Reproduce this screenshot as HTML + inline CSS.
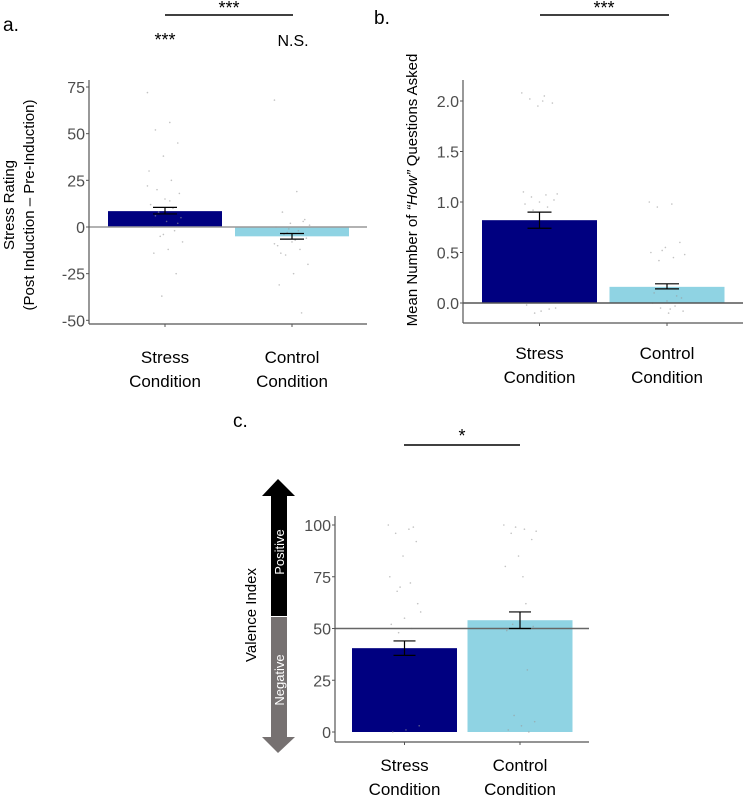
<!DOCTYPE html>
<html><head><meta charset="utf-8">
<style>
html,body{margin:0;padding:0;background:#fff;}
svg{display:block;font-family:"Liberation Sans",sans-serif;}
</style></head>
<body>
<svg id="chart" width="743" height="795" viewBox="0 0 743 795" xmlns="http://www.w3.org/2000/svg">
<text x="3" y="31" font-size="19">a.</text>
<line x1="165" y1="15" x2="293" y2="15" stroke="#000" stroke-width="1.5"/>
<text x="229" y="14" font-size="18" text-anchor="middle">***</text>
<text x="165" y="46" font-size="18" text-anchor="middle">***</text>
<text x="293" y="46" font-size="16" text-anchor="middle">N.S.</text>
<text transform="translate(14,205) rotate(-90)" font-size="15" text-anchor="middle">Stress Rating</text>
<text transform="translate(34,205) rotate(-90)" font-size="15" text-anchor="middle">(Post Induction – Pre-Induction)</text>
<text x="374" y="24" font-size="19">b.</text>
<line x1="540" y1="15" x2="669" y2="15" stroke="#000" stroke-width="1.5"/>
<text x="604" y="14" font-size="18" text-anchor="middle">***</text>
<text transform="translate(417,190) rotate(-90)" font-size="15" text-anchor="middle">Mean Number of <tspan font-style="italic">“How”</tspan> Questions Asked</text>
<text x="233" y="427" font-size="19">c.</text>
<line x1="404" y1="445" x2="520" y2="445" stroke="#000" stroke-width="1.5"/>
<text x="462" y="442" font-size="18" text-anchor="middle">*</text>
<text transform="translate(256,615) rotate(-90)" font-size="15" text-anchor="middle">Valence Index</text>
<g>
<polygon points="278,479 295,496 287,496 287,616 271,616 271,496 262,496" fill="#000"/>
<polygon points="271,617 287,617 287,737 295,737 278,753 262,737 271,737" fill="#767171"/>
<text transform="translate(284,552) rotate(-90)" font-size="13" fill="#fff" text-anchor="middle">Positive</text>
<text transform="translate(284,680) rotate(-90)" font-size="13" fill="#fff" text-anchor="middle">Negative</text>
</g>
</svg>
<script>
const categories = ["Stress", "Control"];
const aMeans = [8.5, -5];
const aErrLow = [7, -6.5];
const aErrHigh = [10.5, -3.5];
const aTicks = [75, 50, 25, 0, -25, -50];
const aPoints = [[72,56,52,45,38,30,25,20,18,15,12,10,8,5,3,0,-2,-5,-8,-12,-14,-25,-37,22,14,6,2,-4],[68,19,8,4,2,0,-2,-4,-6,-8,-10,-12,-15,-20,-25,-31,-46,-3,1,-7,-14,3,-1,-9]];
const bMeans = [0.82, 0.16];
const bErrLow = [0.74, 0.14];
const bErrHigh = [0.90, 0.19];
const bTicks = [2.0, 1.5, 1.0, 0.5, 0.0];
const bPoints = [[2.08,2.05,2.02,1.98,1.95,1.1,1.07,1.05,1.02,1.0,0.98,0.95,0.92,-0.05,-0.08,-0.02,-0.06,-0.1,1.08,2.0],[1.0,0.98,0.95,0.6,0.55,0.5,0.45,0.42,0.05,0.02,0.0,-0.03,-0.05,-0.08,-0.1,0.1,0.07,0.52,0.48,-0.06]];
const cMeans = [40.5, 54];
const cErrLow = [37, 50];
const cErrHigh = [44, 58];
const cTicks = [100, 75, 50, 25, 0];
const cPoints = [[100,98,96,92,85,75,72,68,62,55,52,50,48,3,1,0,99,70,58],[100,98,96,93,85,80,62,52,51,50,49,30,8,5,3,1,0,99,97,75]];

const NS = "http://www.w3.org/2000/svg";
const svg = document.getElementById("chart");
function mk(tag, attrs, parent){const e=document.createElementNS(NS,tag);for(const k in attrs)e.setAttribute(k,attrs[k]);(parent||svg).appendChild(e);return e;}

function panel(p, id, means, lo, hi, ticks, pts, fmt){
  const y = v => p.y0 + (v - p.v0) * (p.y1 - p.y0) / (p.v1 - p.v0);
  const g = mk("g", {});
  
  
  means.forEach((m, i) => {
    const cx = p.centers[i];
    const top = Math.min(y(m), y(p.base)), h = Math.abs(y(m) - y(p.base));
    const r = mk("rect", {x: cx - p.bw/2, y: top, width: p.bw, height: h, fill: i===0 ? "#000080" : "#8fd3e3"}, g);
    
    
  });
  pts.forEach((arr, i) => {
    arr.forEach((v, j) => {
      const dx = ((j * 37) % 23 - 11) * p.bw / 100 * 1.4;
      const c = mk("circle", {cx: p.centers[i] + dx, cy: y(v), r: 0.8, fill: "#999", opacity: 0.6}, g);
      
      
    });
  });
  const rl = mk("line", {x1: p.ax, x2: p.axEnd, y1: y(p.ref), y2: y(p.ref), stroke: p.refColor, "stroke-width": 1.5}, g);
  
  
  means.forEach((m, i) => {
    const cx = p.centers[i], w = p.ew;
    const eg = mk("g", {stroke: "#000", "stroke-width": 1.2}, g);
    
    
    mk("line", {x1: cx, x2: cx, y1: y(lo[i]), y2: y(hi[i])}, eg);
    mk("line", {x1: cx - w, x2: cx + w, y1: y(lo[i]), y2: y(lo[i])}, eg);
    mk("line", {x1: cx - w, x2: cx + w, y1: y(hi[i]), y2: y(hi[i])}, eg);
  });
  const ya = mk("line", {x1: p.ax, x2: p.ax, y1: p.axTop, y2: p.axBot, stroke: "#555", "stroke-width": 1.2}, g);
  
  
  const xa = mk("line", {x1: p.ax, x2: p.axEnd, y1: p.axBot, y2: p.axBot, stroke: "#555", "stroke-width": 1.2}, g);
  
  
  ticks.forEach(t => {
    mk("line", {x1: p.ax - 3, x2: p.ax, y1: y(t), y2: y(t), stroke: "#555"}, g);
    const tx = mk("text", {x: p.ax - 4, y: y(t) + 6, "font-size": 16, fill: "#4d4d4d", "text-anchor": "end"}, g);
    tx.textContent = fmt(t);
    
    
  });
  categories.forEach((c, i) => {
    mk("line", {x1: p.centers[i], x2: p.centers[i], y1: p.axBot, y2: p.axBot + 3, stroke: "#555"}, g);
    const t1 = mk("text", {x: p.centers[i], y: p.lab1, "font-size": 17, "text-anchor": "middle"}, g);
    t1.textContent = c;
    
    
    const t2 = mk("text", {x: p.centers[i], y: p.lab1 + 24, "font-size": 17, "text-anchor": "middle"}, g);
    t2.textContent = "Condition";
    
    
  });
}

panel({v0: 0, v1: 75, y0: 227, y1: 87, base: 0, ref: 0, refColor: "#999", centers: [165, 292], bw: 114, ew: 12,
  ax: 89, axEnd: 367, axTop: 80, axBot: 324, lab1: 363}, "panel-a", aMeans, aErrLow, aErrHigh, aTicks, aPoints, v => String(v));
panel({v0: 0, v1: 2, y0: 303, y1: 101, base: 0, ref: 0, refColor: "#555", centers: [539.5, 667], bw: 115, ew: 12,
  ax: 463, axEnd: 743, axTop: 80, axBot: 323, lab1: 359}, "panel-b", bMeans, bErrLow, bErrHigh, bTicks, bPoints, v => v.toFixed(1));
panel({v0: 0, v1: 100, y0: 732, y1: 525, base: 0, ref: 50, refColor: "#666", centers: [404.5, 520], bw: 105, ew: 11,
  ax: 335, axEnd: 589, axTop: 516, axBot: 742, lab1: 771}, "panel-c", cMeans, cErrLow, cErrHigh, cTicks, cPoints, v => String(v));
</script>
</body></html>
